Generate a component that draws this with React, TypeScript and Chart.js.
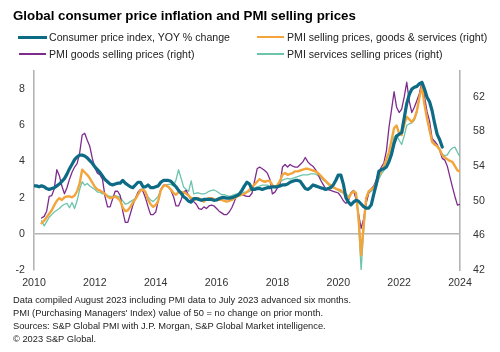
import React, { useEffect, useRef } from "react";
import { Chart, registerables } from "chart.js";

Chart.register(...registerables);

const FONT = "'Liberation Sans', Arial, Helvetica, sans-serif";

const TITLE = "Global consumer price inflation and PMI selling prices";
const SERIES_NAMES = [
  "Consumer price index, YOY % change",
  "PMI selling prices, goods & services (right)",
  "PMI goods selling prices (right)",
  "PMI services selling prices (right)",
];
const NOTES = [
  "Data compiled August 2023 including PMI data to July 2023 advanced six months.",
  "PMI (Purchasing Managers' Index) value of 50 = no change on prior month.",
  "Sources: S&P Global PMI with J.P. Morgan, S&P Global Market intelligence.",
  "\u00a9 2023 S&P Global.",
];

// first month of each series: [year, month]
const CPI_START = [2010, 1];
const PMI_START = [2010, 4];

const X_TICKS = [2010, 2012, 2014, 2016, 2018, 2020, 2022, 2024];
const LEFT_TICKS = [-2, 0, 2, 4, 6, 8];
const RIGHT_TICKS = [42, 46, 50, 54, 58, 62];

// Consumer price index, YOY % change (monthly, Jan 2010 - Jun 2023)
const cpi = [
  2.65, 2.65, 2.6, 2.65, 2.6, 2.5, 2.45, 2.5, 2.55, 2.65, 2.75, 2.9,
  3.05, 3.3, 3.6, 3.85, 4.1, 4.25, 4.35, 4.35, 4.3, 4.2, 4.05, 3.9,
  3.7, 3.55, 3.4, 3.2, 3.0, 2.88, 2.75, 2.7, 2.75, 2.8, 2.8, 2.95,
  2.8, 2.7, 2.6, 2.55, 2.7, 2.85, 2.85, 2.6, 2.6, 2.7, 2.55, 2.55,
  2.6, 2.65, 2.85, 2.95, 2.95, 2.95, 2.9, 2.75, 2.6, 2.4, 2.25, 2.05,
  1.95, 1.8, 1.75, 1.95, 1.95, 1.9, 1.85, 1.9, 1.9, 1.9, 1.9, 1.85,
  1.87, 1.95, 2.0, 2.0, 1.97, 1.97, 2.0, 2.05, 2.1, 2.2, 2.4, 2.65,
  2.85, 2.75, 2.45, 2.45, 2.5, 2.5, 2.45, 2.5, 2.55, 2.55, 2.6, 2.6,
  2.6, 2.65, 2.7, 2.7, 2.75, 2.85, 2.9, 2.95, 2.95, 2.9, 2.7, 2.5,
  2.45, 2.55, 2.7, 2.65, 2.6, 2.55, 2.5, 2.45, 2.5, 2.55, 2.7, 2.95,
  3.25, 3.25, 2.75, 2.0, 1.75, 1.6, 1.75, 1.85, 1.8, 1.65, 1.5, 1.42,
  1.42, 1.6, 2.2, 2.75, 3.45, 3.55, 3.6, 3.7, 4.0, 4.4, 5.0, 5.4,
  5.5, 5.6, 6.4, 7.2, 7.7, 8.0, 8.1, 8.15, 8.3, 8.37, 8.0, 7.55,
  7.3, 6.8, 6.1, 5.5, 5.2, 4.8,
];

// PMI selling prices, goods & services (advanced six months; Apr 2010 - Jan 2024)
const pmiComposite = [
  47.4, 47.7, 48.1, 48.5, 48.9, 49.5, 50.0, 50.3, 50.1,
  50.4, 50.5, 50.5, 50.4, 50.6, 51.1, 52.0, 53.6, 53.3, 53.0, 52.6, 52.1,
  51.6, 51.3, 51.2, 51.0, 50.8, 50.5, 50.3, 50.4, 50.5, 50.3, 50.0, 49.2,
  48.8, 48.9, 49.3, 49.8, 50.2, 50.7, 51.2, 51.3, 51.0, 50.1, 49.6, 49.3,
  49.5, 50.0, 51.2, 51.7, 51.8, 51.6, 51.3, 50.9, 50.7, 51.0, 51.0, 51.0,
  50.8, 50.6, 50.3, 50.1, 50.2, 50.3, 50.1, 49.9, 50.2, 50.3, 50.3, 50.2,
  50.1, 50.1, 50.1, 50.0, 49.9, 50.0, 50.1, 50.3, 50.5, 50.6, 50.7, 50.8,
  51.0, 51.3, 51.6, 51.9, 52.2, 52.5, 52.3, 52.2, 52.3, 52.3, 51.8, 51.6,
  51.8, 52.3, 53.0, 53.2, 53.0, 53.1, 53.2, 53.4, 53.4, 53.5, 53.6, 53.7,
  53.7, 53.6, 53.5, 53.4, 53.2, 52.9, 52.6, 52.3, 52.0, 51.8, 51.6, 51.4,
  51.3, 51.2, 50.9, 50.6, 50.3, 50.8, 51.1, 50.9, 48.0, 43.7, 47.2, 50.3,
  51.1, 51.3, 51.5, 52.0, 52.9, 53.5, 54.0, 54.8, 55.6, 57.0, 58.4, 58.7,
  57.8, 57.6, 58.8, 59.7, 59.4, 59.1, 59.5, 60.4, 62.0, 63.2, 61.1, 59.5,
  58.2, 56.8, 56.5, 56.3, 55.9, 55.3, 55.0, 54.8, 54.6, 54.5, 54.0, 53.5,
  53.4,
];

// PMI goods selling prices
const pmiGoods = [
  48.0, 48.2, 48.8, 50.5, 50.6, 51.4, 53.6, 52.9, 51.7,
  50.8, 51.5, 52.5, 53.3, 53.9, 54.3, 55.5, 57.6, 57.8, 57.0, 56.3, 54.9,
  53.8, 53.2, 53.0, 52.5, 50.5, 49.3, 49.3, 50.2, 51.1, 51.1, 50.6, 48.8,
  47.5, 47.5, 48.5, 49.5, 50.3, 51.0, 51.3, 51.1, 50.3, 49.3, 48.4, 48.4,
  48.7, 50.0, 51.3, 51.8, 51.8, 51.6, 51.2, 50.5, 49.4, 49.4, 50.1, 51.0,
  51.2, 50.6, 50.1, 49.9, 49.6, 49.1, 49.0, 49.3, 49.1, 49.4, 49.5, 49.4,
  49.1, 48.8, 48.6, 48.4, 48.4, 48.7, 49.2, 49.9, 50.7, 50.7, 50.7, 50.6,
  50.5, 50.5, 50.9, 52.3, 53.7, 53.9, 53.7, 53.5, 53.2, 52.5, 50.8, 51.0,
  51.5, 51.9, 53.9, 54.2, 53.9, 54.2, 54.0, 53.9, 53.9, 54.2, 54.5, 55.0,
  54.5, 54.2, 54.0, 53.6, 53.1, 52.4, 51.9, 51.4, 51.3, 51.2, 51.1, 51.0,
  50.9, 50.5, 50.0, 49.7, 50.0, 50.9, 51.2, 50.2, 48.5, 46.8, 47.9, 49.7,
  50.9, 51.4, 51.7, 52.4, 53.3, 53.9, 54.4, 55.8, 58.5, 60.5, 62.6, 60.8,
  60.2, 60.6, 62.0, 63.7, 61.5, 60.2, 60.8, 61.6, 62.4, 63.8, 62.0, 60.3,
  59.2, 57.2, 56.9, 56.5, 55.8, 54.9, 54.7, 54.0, 52.8, 51.6, 50.5, 49.5,
  49.6,
];

// PMI services selling prices
const pmiServices = [
  47.7, 47.1, 47.6, 48.1, 48.4, 48.7, 48.9, 49.1, 49.4,
  49.6, 49.7, 49.2, 49.8, 49.1, 50.0, 51.3, 52.2, 51.8, 52.0, 51.7, 51.5,
  51.3, 51.0, 51.0, 50.8, 50.8, 50.6, 50.5, 50.5, 50.6, 50.5, 50.4, 50.0,
  49.6, 49.7, 49.9, 50.1, 50.3, 50.8, 51.3, 51.4, 51.0, 50.4, 50.1, 49.9,
  50.2, 50.5, 51.3, 51.7, 51.8, 51.9, 51.9, 51.7, 52.4, 53.6, 52.6, 51.6,
  51.3, 51.1, 52.3, 50.8, 50.9, 50.9, 50.8, 50.8, 50.9, 51.1, 51.2, 51.25,
  51.1, 50.9, 50.7, 50.7, 50.6, 50.5, 50.6, 50.7, 50.8, 50.9, 50.9, 51.0,
  51.0, 51.1, 51.3, 51.5, 51.6, 51.7, 51.8, 51.8, 51.8, 51.7, 51.6, 51.6,
  51.7, 52.1, 52.4, 52.5, 52.6, 52.5, 52.6, 52.7, 52.8, 52.9, 53.0, 53.0,
  53.0, 53.1, 53.1, 53.1, 52.9, 52.7, 52.4, 52.2, 51.9, 51.6, 51.5, 51.4,
  51.2, 51.0, 50.95, 50.85, 50.5, 50.9, 51.2, 50.9, 47.5, 42.0, 46.5, 49.9,
  50.9, 51.1, 51.3, 51.7, 52.5, 53.1, 53.5, 54.1, 54.9, 56.0, 57.4, 57.6,
  57.0, 56.5, 57.5, 58.7, 58.9, 59.0, 59.3, 60.2, 62.0, 63.6, 61.5, 59.5,
  57.9, 57.1, 56.7, 56.4, 56.0, 55.4, 55.2, 55.3, 55.8, 56.1, 56.2, 55.6,
  55.1,
];

const COLORS = {
  cpi: "#0d6b86",
  composite: "#f3a53c",
  goods: "#7e2b8e",
  services: "#6cc4ac",
  axis: "#b4b4b4",
  tick: "#333333",
  text: "#1a1a1a",
};

const LINE_WIDTHS = { cpi: 3.2, composite: 2.4, goods: 1.3, services: 1.3 };

function toPoints(values: number[], start: number[]) {
  return values.map((v, i) => ({ x: start[0] + (start[1] - 1 + i) / 12, y: v }));
}

function setTicks(list: number[]) {
  return (scale: any) => {
    scale.ticks = list.map((v) => ({ value: v }));
  };
}

function ChartCanvas() {
  const ref = useRef<HTMLCanvasElement | null>(null);

  useEffect(() => {
    if (!ref.current) return;
    const tickFont = { family: FONT, size: 10.6 };
    const lineDefaults = {
      pointRadius: 0,
      pointHoverRadius: 0,
      tension: 0,
      fill: false,
      borderJoinStyle: "round" as const,
      borderCapStyle: "round" as const,
    };
    const chart = new Chart(ref.current, {
      type: "line",
      data: {
        datasets: [
          {
            ...lineDefaults,
            label: SERIES_NAMES[0],
            data: toPoints(cpi, CPI_START),
            borderColor: COLORS.cpi,
            borderWidth: LINE_WIDTHS.cpi,
            yAxisID: "y",
          },
          {
            ...lineDefaults,
            label: SERIES_NAMES[1],
            data: toPoints(pmiComposite, PMI_START),
            borderColor: COLORS.composite,
            borderWidth: LINE_WIDTHS.composite,
            yAxisID: "y1",
          },
          {
            ...lineDefaults,
            label: SERIES_NAMES[2],
            data: toPoints(pmiGoods, PMI_START),
            borderColor: COLORS.goods,
            borderWidth: LINE_WIDTHS.goods,
            yAxisID: "y1",
          },
          {
            ...lineDefaults,
            label: SERIES_NAMES[3],
            data: toPoints(pmiServices, PMI_START),
            borderColor: COLORS.services,
            borderWidth: LINE_WIDTHS.services,
            yAxisID: "y1",
          },
        ],
      },
      options: {
        animation: false,
        responsive: false,
        events: [],
        layout: { padding: { top: 71, left: 0, right: 0, bottom: 0 } },
        plugins: {
          legend: { display: false },
          title: { display: false },
          tooltip: { enabled: false },
        },
        scales: {
          x: {
            type: "linear",
            min: X_TICKS[0],
            max: X_TICKS[X_TICKS.length - 1],
            afterBuildTicks: setTicks(X_TICKS),
            afterFit: (s: any) => {
              s.height = 82;
            },
            grid: { display: false, drawTicks: false },
            border: { display: false },
            ticks: {
              autoSkip: false,
              maxRotation: 0,
              padding: 7,
              color: COLORS.tick,
              font: tickFont,
              callback: (v: any) => String(v),
            },
          },
          y: {
            position: "left",
            min: -2,
            max: 9,
            afterBuildTicks: setTicks(LEFT_TICKS),
            afterFit: (s: any) => {
              s.width = 34;
            },
            grid: {
              drawTicks: false,
              lineWidth: 1.6,
              color: (ctx: any) =>
                ctx.tick && ctx.tick.value === 0 ? COLORS.axis : "rgba(0,0,0,0)",
            },
            border: { display: true, color: COLORS.axis, width: 1.6 },
            ticks: { padding: 9, color: COLORS.tick, font: tickFont },
          },
          y1: {
            position: "right",
            min: 42,
            max: 65,
            afterBuildTicks: setTicks(RIGHT_TICKS),
            afterFit: (s: any) => {
              s.width = 40;
            },
            grid: { display: false, drawTicks: false },
            border: { display: true, color: COLORS.axis, width: 1.6 },
            ticks: { padding: 13, color: COLORS.tick, font: tickFont },
          },
        },
      },
    });
    return () => chart.destroy();
  }, []);

  return (
    <canvas
      ref={ref}
      width={500}
      height={352}
      style={{ position: "absolute", left: 0, top: 0, width: 500, height: 352 }}
    />
  );
}

const LEGEND_ITEMS = [
  { name: SERIES_NAMES[0], color: COLORS.cpi, width: LINE_WIDTHS.cpi, lineX: 18, lineW: 29, textX: 49, cy: 37.3 },
  { name: SERIES_NAMES[1], color: COLORS.composite, width: LINE_WIDTHS.composite, lineX: 257, lineW: 27, textX: 287, cy: 37.3 },
  { name: SERIES_NAMES[2], color: COLORS.goods, width: LINE_WIDTHS.goods, lineX: 19, lineW: 27, textX: 49, cy: 54 },
  { name: SERIES_NAMES[3], color: COLORS.services, width: LINE_WIDTHS.services, lineX: 257, lineW: 27, textX: 287, cy: 54 },
];

export default function App() {
  return (
    <div
      style={{
        position: "absolute",
        left: 0,
        top: 0,
        width: 500,
        height: 352,
        background: "#ffffff",
        overflow: "hidden",
        fontFamily: FONT,
        color: COLORS.text,
      }}
    >
      <ChartCanvas />
      <div
        style={{
          position: "absolute",
          left: 13,
          top: 8,
          fontSize: 13.3,
          lineHeight: "16px",
          fontWeight: "bold",
          color: "#000",
          whiteSpace: "nowrap",
        }}
      >
        {TITLE}
      </div>
      {LEGEND_ITEMS.map((it) => (
        <React.Fragment key={it.name}>
          <div
            style={{
              position: "absolute",
              left: it.lineX,
              top: it.cy - it.width / 2,
              width: it.lineW,
              height: it.width,
              background: it.color,
            }}
          />
          <div
            style={{
              position: "absolute",
              left: it.textX,
              top: it.cy - 6.5,
              fontSize: 10.6,
              lineHeight: "13px",
              whiteSpace: "nowrap",
              color: "#222",
            }}
          >
            {it.name}
          </div>
        </React.Fragment>
      ))}
      <div
        style={{
          position: "absolute",
          left: 13,
          top: 294.2,
          fontSize: 9.3,
          lineHeight: "12.9px",
          color: "#222",
          whiteSpace: "nowrap",
        }}
      >
        {NOTES.map((n) => (
          <div key={n}>{n}</div>
        ))}
      </div>
    </div>
  );
}
